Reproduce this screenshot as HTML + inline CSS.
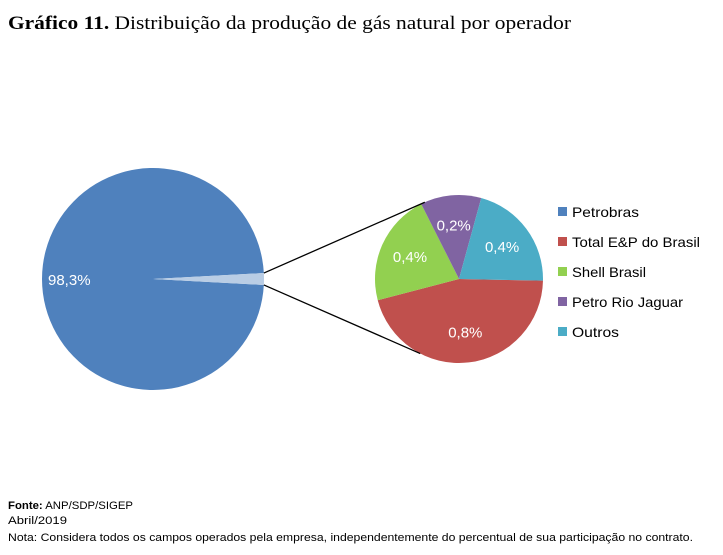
<!DOCTYPE html>
<html><head><meta charset="utf-8"><style>
body{margin:0;background:#fff;width:723px;height:550px;overflow:hidden;font-family:"Liberation Sans",sans-serif}
</style></head><body>
<svg width="723" height="550">
<text x="8" y="29" font-family="Liberation Serif,serif" font-size="19" fill="#000" textLength="563" lengthAdjust="spacingAndGlyphs"><tspan font-weight="bold">Gráfico 11.</tspan> Distribuição da produção de gás natural por operador</text>
<g id="main"></g>
<g id="sec"></g>
<g id="legend"></g>
<g font-size="11" fill="#000">
<text x="8" y="509" textLength="125" lengthAdjust="spacingAndGlyphs"><tspan font-weight="bold">Fonte:</tspan> ANP/SDP/SIGEP</text>
<text x="8" y="524" textLength="59" lengthAdjust="spacingAndGlyphs">Abril/2019</text>
<text x="8" y="541" textLength="685" lengthAdjust="spacingAndGlyphs">Nota: Considera todos os campos operados pela empresa, independentemente do percentual de sua participação no contrato.</text>
</g>
</svg>
<script>
const categories=["Petrobras","Total E&P do Brasil","Shell Brasil","Petro Rio Jaguar","Outros"];
const mainValue=[98.29];
const secValues=[0.78,0.37,0.20,0.36];
const secCategories=["Total E&P do Brasil","Shell Brasil","Petro Rio Jaguar","Outros"];
const colors=["#4F81BD","#C0504D","#92D050","#8064A2","#4BACC6"];
const legendWidths=[67,128,74,111,47];
const NS="http://www.w3.org/2000/svg";
function mk(t,a,p){const e=document.createElementNS(NS,t);for(const k in a)e.setAttribute(k,a[k]);p.appendChild(e);return e;}
function pt(cx,cy,r,a){return [cx+r*Math.cos(a),cy+r*Math.sin(a)];}
function arc(cx,cy,r,a0,a1){const p0=pt(cx,cy,r,a0),p1=pt(cx,cy,r,a1);const l=(a1-a0)>Math.PI?1:0;
return `M${cx},${cy}L${p0[0]},${p0[1]}A${r},${r} 0 ${l} 1 ${p1[0]},${p1[1]}Z`;}
function fmt(v){return v.toFixed(1).replace('.',',')+'%';}
const secTotal=secValues.reduce((a,b)=>a+b,0);
const total=mainValue[0]+secTotal;
const mcx=153,mcy=279,mr=111;
const main=document.getElementById('main');
const other=secTotal/total*2*Math.PI;
let p=mk('path',{d:arc(mcx,mcy,mr,other/2,2*Math.PI-other/2),fill:colors[0]},main);


p=mk('path',{d:arc(mcx,mcy,mr,-other/2,other/2),fill:"#B9CDE5"},main);


let t=mk('text',{x:mcx-105,y:mcy+6,fill:"#fff","font-size":15},main);t.textContent=fmt(mainValue[0]);


const scx=459,scy=279,sr=84;
const sec=document.getElementById('sec');
let a=0.02;
secValues.forEach((v,i)=>{const da=v/secTotal*2*Math.PI;
const s=mk('path',{d:arc(scx,scy,sr,a,a+da),fill:colors[i+1]},sec);


const m=a+da/2;const lp=pt(scx,scy,sr*0.64,m);
const tx=mk('text',{x:lp[0],y:lp[1]+5,fill:"#fff","font-size":15,"text-anchor":"middle"},sec);tx.textContent=fmt(v);


a+=da;});
const p1=pt(mcx,mcy,mr,-other/2),p2=pt(mcx,mcy,mr,other/2);
const q1=pt(scx,scy,sr,-1.99),q2=pt(scx,scy,sr,2.05);
let l=mk('line',{x1:p1[0],y1:p1[1],x2:q1[0],y2:q1[1],stroke:"#000","stroke-width":1.3},sec);


l=mk('line',{x1:p2[0],y1:p2[1],x2:q2[0],y2:q2[1],stroke:"#000","stroke-width":1.3},sec);


const lg=document.getElementById('legend');
categories.forEach((c,i)=>{const y=212+i*30;
const r=mk('rect',{x:558,y:y-5,width:9,height:9,fill:colors[i]},lg);


const tx=mk('text',{x:572,y:y+5,"font-size":14,fill:"#000",textLength:legendWidths[i],lengthAdjust:"spacingAndGlyphs"},lg);tx.textContent=c;

});
</script>
</body></html>
